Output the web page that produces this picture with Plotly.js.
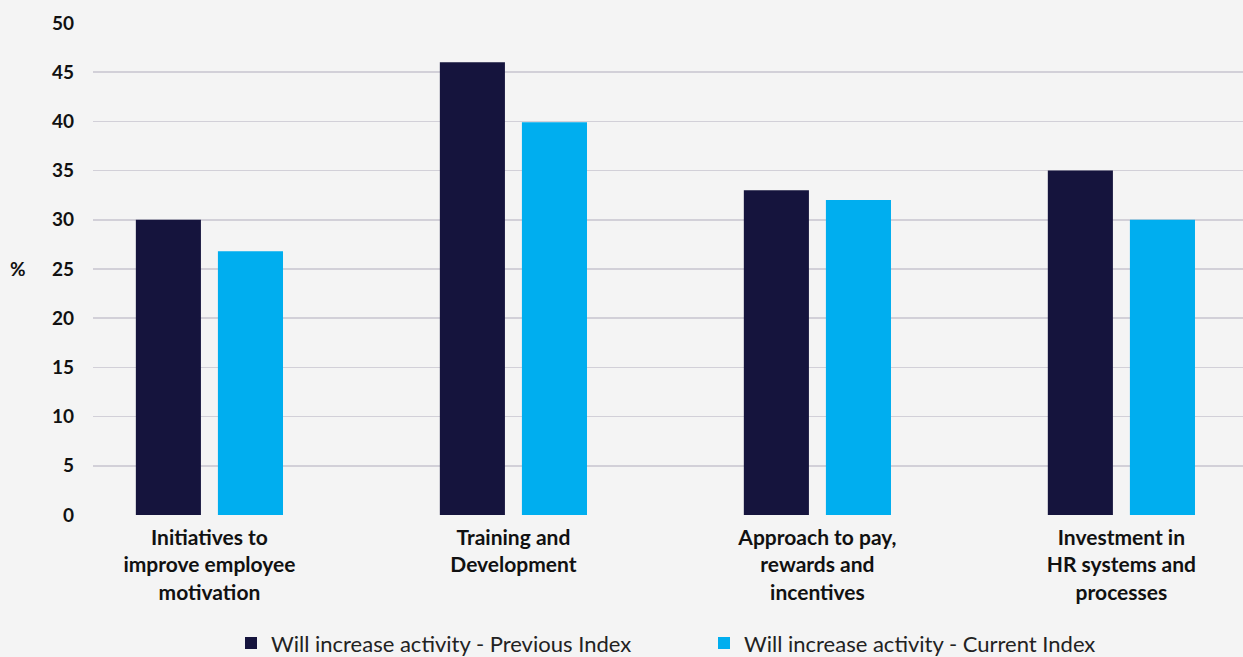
<!DOCTYPE html>
<html>
<head>
<meta charset="utf-8">
<script src="https://cdn.plot.ly/plotly-3.0.1.min.js"></script>
<style>html,body{margin:0;padding:0;background:#f4f4f4;}#chart{width:1243px;height:657px;}</style>
</head>
<body>
<div id="chart"></div>
<script>
const categories = ["Initiatives to<br>improve employee<br>motivation", "Training and<br>Development", "Approach to pay,<br>rewards and<br>incentives", "Investment in<br>HR systems and<br>processes"];
const previousIndex = [30, 46, 33, 35];
const currentIndex = [26.8, 39.9, 32, 30];
const seriesNames = ["Will increase activity - Previous Index", "Will increase activity - Current Index"];
const yTicks = [0, 5, 10, 15, 20, 25, 30, 35, 40, 45, 50];

const data = [
  {type: 'bar', x: categories, y: previousIndex, name: seriesNames[0], marker: {color: '#15143d'}, hoverinfo: 'none'},
  {type: 'bar', x: categories, y: currentIndex, name: seriesNames[1], marker: {color: '#00aeef'}, hoverinfo: 'none'}
];

const layout = {
  width: 1243, height: 657,
  paper_bgcolor: '#f4f4f4', plot_bgcolor: '#f4f4f4',
  margin: {l: 93, r: 0, t: 22, b: 142},
  barmode: 'group', bargap: 0.46, bargroupgap: 0.207,
  font: {family: 'Lato, sans-serif', color: '#111111'},
  xaxis: {
    type: 'category', range: [-0.383, 3.40], automargin: false,
    showgrid: false, zeroline: false, showline: false,
    tickfont: {family: 'Lato, sans-serif', size: 21, color: '#111111', weight: 'bold'},
    ticklabelstandoff: 8
  },
  yaxis: {
    range: [0, 50.1], tickvals: yTicks, ticktext: yTicks.map(String), automargin: false,
    showgrid: true, gridcolor: '#d2d0d8', gridwidth: 1.5,
    zeroline: false, showline: false,
    tickfont: {family: 'Lato, sans-serif', size: 19, color: '#111111', weight: 'bold'},
    ticklabelstandoff: 18
  },
  showlegend: true,
  legend: {
    orientation: 'h', xref: 'paper', x: 0.12, xanchor: 'left',
    yref: 'container', y: 0.021, yanchor: 'middle',
    font: {family: 'Lato, sans-serif', size: 22, color: '#222222'},
    traceorder: 'normal', itemwidth: 30, entrywidth: 428
  },
  annotations: [
    {text: '%', xref: 'paper', yref: 'paper', x: -0.065, y: 0.5, xanchor: 'center', yanchor: 'middle', showarrow: false,
     font: {family: 'Lato, sans-serif', size: 19, color: '#111111', weight: 'bold'}}
  ]
};

Plotly.newPlot('chart', data, layout, {displayModeBar: false, staticPlot: true});
</script>
</body>
</html>
